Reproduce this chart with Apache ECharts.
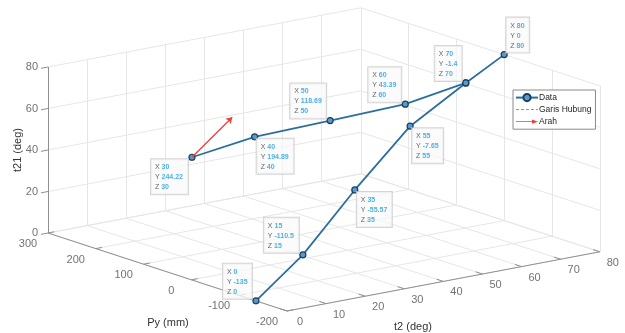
<!DOCTYPE html>
<html>
<head>
<meta charset="utf-8">
<script src="https://cdn.jsdelivr.net/npm/echarts@6/dist/echarts.min.js"></script>
<style>
  html, body { margin: 0; padding: 0; background: #fff; }
  #chart { width: 625px; height: 333px; }
</style>
</head>
<body>
<div id="chart"></div>
<script>
// branch A and branch B of the path (t2, Py, t21)
const t2A = [0, 15, 35, 55, 70, 80];
const pyA = [-135, -110.5, -55.57, -7.65, -1.4, 0];
const t21A = [0, 15, 35, 55, 70, 80];
const t2B = [30, 40, 50, 60, 70];
const pyB = [244.22, 194.89, 118.69, 43.39, -1.4];
const t21B = [30, 40, 50, 60, 70];
// arrow (Arah) start / end
const arahFrom = [30, 244.22, 30];
const arahTo = [40.3, 244.22, 45.6];
// tick values
const t2Ticks = [0, 10, 20, 30, 40, 50, 60, 70, 80];
const pyTicks = [-200, -100, 0, 100, 200, 300];
const t21Ticks = [0, 20, 40, 60, 80];

// where each datatip box sits relative to its point (A then B without the shared 70)
const tipSideA = ['ul', 'ul', 'lr', 'lr', 'ul', 'ur'];
const tipSideB = ['ll', 'lr', 'ul', 'ul'];

// simple orthographic projection of the 3D box onto the page
const O = [287, 311];           // screen position of t2=0, Py=-200, t21=0
const EX = [3.91, -0.74];       // per t2 unit
const EY = [-0.478, -0.156];    // per Py unit
const EZ = [0, -2.075];         // per t21 unit
function proj (x, y, z) {
  let dy = y + 200
  return [O[0] + EX[0] * x + EY[0] * dy + EZ[0] * z, O[1] + EX[1] * x + EY[1] * dy + EZ[1] * z]
}
const xMin = 0, xMax = 80, yMin = -200, yMax = 300, zMin = 0, zMax = 80

// grid lines on the back walls and floor
let gridLines = []
function seg (a, b) { gridLines.push({ coords: [proj(a[0], a[1], a[2]), proj(b[0], b[1], b[2])] }) }
t2Ticks.forEach(x => {
  seg([x, yMax, zMin], [x, yMax, zMax])   // wall Py=300
  seg([x, yMin, zMin], [x, yMax, zMin])   // floor
})
pyTicks.forEach(y => {
  seg([xMax, y, zMin], [xMax, y, zMax])   // wall t2=80
  seg([xMin, y, zMin], [xMax, y, zMin])   // floor
})
t21Ticks.forEach(z => {
  seg([xMin, yMax, z], [xMax, yMax, z])
  seg([xMax, yMin, z], [xMax, yMax, z])
})

// axis lines and ticks
let axisLines = []
function aseg (a, b) { axisLines.push({ coords: [proj(a[0], a[1], a[2]), proj(b[0], b[1], b[2])] }) }
aseg([xMin, yMax, zMin], [xMin, yMax, zMax])
aseg([xMin, yMin, zMin], [xMin, yMax, zMin])
aseg([xMin, yMin, zMin], [xMax, yMin, zMin])
t21Ticks.forEach(z => aseg([xMin, yMax, z], [xMin - 1.8, yMax, z]))
pyTicks.forEach(y => aseg([xMin, y, zMin], [xMin + 1.6, y, zMin]))
t2Ticks.forEach(x => aseg([x, yMin, zMin], [x, yMin + 14, zMin]))

const font = 'Liberation Sans, Arial, sans-serif'
function tickLabel (p, text, dx, dy, align) {
  return {
    value: p,
    label: { show: true, position: 'inside', formatter: text, offset: [dx, dy], align: align || 'center', verticalAlign: 'middle' }
  }
}
let tickLabels = []
t21Ticks.forEach(z => tickLabels.push(tickLabel(proj(xMin, yMax, z), String(z), -10, 0, 'right')))
pyTicks.forEach(y => tickLabels.push(tickLabel(proj(xMin, y, zMin), String(y), -20, 11)))
t2Ticks.forEach(x => tickLabels.push(tickLabel(proj(x, yMin, zMin), String(x), 13, 11)))

// datatips: measure the text so the box can be placed on either side
const ctx = document.createElement('canvas').getContext('2d')
function lineW (k, v) {
  ctx.font = '7px ' + font
  let w = ctx.measureText(k + ' ').width
  ctx.font = 'bold 7px ' + font
  return w + ctx.measureText(String(v)).width
}
const padL = 4, padR = 3
function tip (x, y, z, side) {
  let w = Math.ceil(Math.max(lineW('X', x), lineW('Y', y), lineW('Z', z))) + 1
  let left = side[1] === 'l'
  let up = side[0] === 'u'
  return {
    value: proj(x, y, z),
    label: {
      show: true,
      position: 'inside',
      align: 'left',
      verticalAlign: up ? 'bottom' : 'top',
      width: w,
      offset: [left ? -2 - (w + padL + padR + 2) : 2, up ? -2 : 2],
      formatter: '{k|X }{v|' + x + '}\n{k|Y }{v|' + y + '}\n{k|Z }{v|' + z + '}'
    }
  }
}
let tips = []
t2A.forEach((x, i) => tips.push(tip(x, pyA[i], t21A[i], tipSideA[i])))
t2B.slice(0, 4).forEach((x, i) => tips.push(tip(x, pyB[i], t21B[i], tipSideB[i])))

const lineA = t2A.map((x, i) => proj(x, pyA[i], t21A[i]))
const lineB = t2B.map((x, i) => proj(x, pyB[i], t21B[i]))

const blue = '#2c6f9f'
const red = '#e5403a'
const dataLine = {
  type: 'line',
  name: 'Data',
  symbol: 'circle',
  symbolSize: 6,
  lineStyle: { color: blue, width: 1.8 },
  itemStyle: { color: '#5a9acb', borderColor: '#173f5e', borderWidth: 1.2 },
  z: 5
}

let myChart = echarts.init(document.getElementById('chart'))
let option = {
  animation: false,
  textStyle: { fontFamily: font },
  grid: { left: 0, right: 0, top: 0, bottom: 0 },
  xAxis: { type: 'value', min: 0, max: 625, show: false },
  yAxis: { type: 'value', min: 0, max: 333, inverse: true, show: false },
  legend: {
    orient: 'vertical',
    left: 513,
    top: 90,
    padding: [3, 4, 3, 2],
    itemWidth: 22,
    itemHeight: 9,
    itemGap: 3,
    backgroundColor: '#fff',
    borderColor: '#8a8a8a',
    borderWidth: 1,
    borderRadius: 0,
    textStyle: { fontSize: 8.5, color: '#262626', fontFamily: font, padding: [0, 0, 0, -4] },
    data: [
      'Data',
      {
        name: 'Garis Hubung',
        icon: 'path://M0,0L0.01,0L0,0ZM0,9L0.01,9L0,9ZM0,4.1L3,4.1L3,4.9L0,4.9ZM5,4.1L8,4.1L8,4.9L5,4.9ZM10,4.1L13,4.1L13,4.9L10,4.9ZM15,4.1L18,4.1L18,4.9L15,4.9ZM20,4.1L22,4.1L22,4.9L20,4.9Z',
        itemStyle: { color: red, borderWidth: 0 },
        lineStyle: { width: 0 }
      },
      {
        name: 'Arah',
        icon: 'path://M0,0L0.01,0L0,0ZM0,9L0.01,9L0,9ZM0,4.1L16,4.1L16,2.4L22,4.5L16,6.6L16,4.9L0,4.9Z',
        itemStyle: { color: red, borderWidth: 0 },
        lineStyle: { width: 0 }
      }
    ]
  },
  graphic: [
    { type: 'text', x: 18, y: 150, rotation: Math.PI / 2, style: { text: 't21 (deg)', font: '11px ' + font, fill: '#333', align: 'center', verticalAlign: 'middle' } },
    { type: 'text', style: { text: 'Py (mm)', x: 168, y: 323, font: '11px ' + font, fill: '#333', align: 'center', verticalAlign: 'middle' } },
    { type: 'text', style: { text: 't2 (deg)', x: 413, y: 327, font: '11px ' + font, fill: '#333', align: 'center', verticalAlign: 'middle' } }
  ],
  series: [
    {
      type: 'lines',
      coordinateSystem: 'cartesian2d',
      silent: true,
      lineStyle: { color: '#e6e6e6', width: 1, opacity: 1 },
      data: gridLines,
      z: 1
    },
    {
      type: 'lines',
      coordinateSystem: 'cartesian2d',
      silent: true,
      lineStyle: { color: '#8f8f8f', width: 1, opacity: 1 },
      data: axisLines,
      z: 2
    },
    {
      type: 'scatter',
      silent: true,
      symbolSize: 1,
      itemStyle: { color: 'transparent' },
      label: { color: '#4d4d4d', fontSize: 11, fontFamily: font },
      data: tickLabels,
      z: 3
    },
    Object.assign({ data: lineA }, dataLine),
    Object.assign({ data: lineB }, dataLine),
    {
      // connecting line (Garis Hubung) has no visible segments in this view
      type: 'lines',
      name: 'Garis Hubung',
      coordinateSystem: 'cartesian2d',
      lineStyle: { color: red, width: 0.8, type: [3, 2] },
      itemStyle: { color: red },
      data: []
    },
    {
      type: 'lines',
      name: 'Arah',
      coordinateSystem: 'cartesian2d',
      symbol: ['none', 'arrow'],
      symbolSize: 6,
      lineStyle: { color: red, width: 1.3, opacity: 1 },
      itemStyle: { color: red },
      data: [{ coords: [proj(arahFrom[0], arahFrom[1], arahFrom[2]), proj(arahTo[0], arahTo[1], arahTo[2])] }],
      z: 6
    },
    {
      type: 'scatter',
      silent: true,
      symbolSize: 1,
      itemStyle: { color: 'transparent' },
      label: {
        backgroundColor: 'rgba(250,250,250,0.95)',
        borderColor: '#c9c9c9',
        borderWidth: 1,
        padding: [3, padR, 2, padL],
        rich: {
          k: { color: '#404040', fontSize: 7, lineHeight: 10, fontFamily: font },
          v: { color: '#1e9ee0', fontSize: 7, lineHeight: 10, fontWeight: 'bold', fontFamily: font }
        }
      },
      data: tips,
      z: 7
    }
  ]
}
myChart.setOption(option, true)
</script>
</body>
</html>
